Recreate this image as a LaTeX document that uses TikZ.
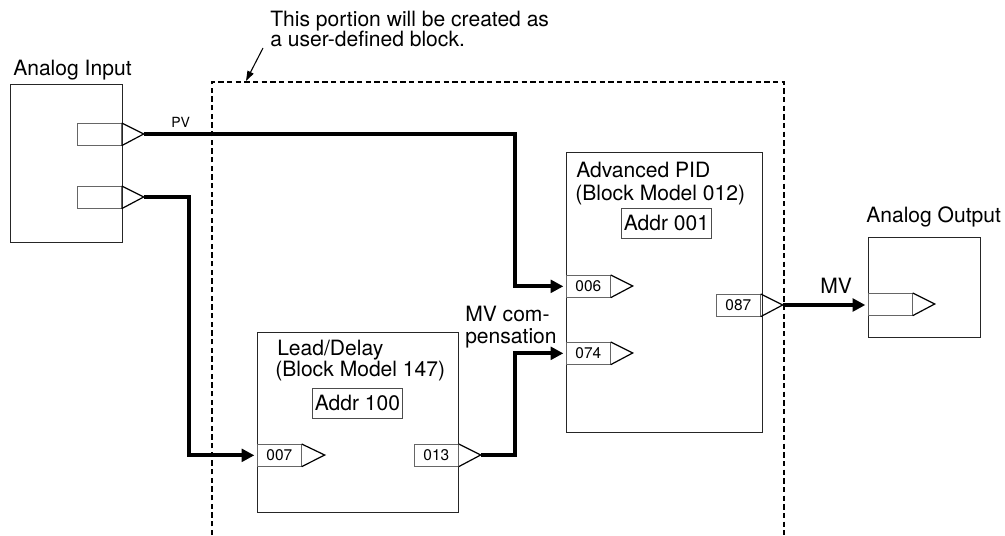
\documentclass[tikz,border=0pt]{standalone}
\usepackage{fontspec}
\setmainfont{TeX Gyre Heros}
\usetikzlibrary{arrows.meta}
\begin{document}
\begin{tikzpicture}[x=0.75pt,y=-0.75pt,
  blk/.style={draw=black!85, line width=0.8pt, inner sep=0pt, anchor=north west},
  addr/.style={draw=black!70, line width=0.6pt, inner sep=0pt, anchor=north west,
     minimum width=67.5pt, minimum height=22.5pt, font=\fontsize{15.8}{19}\selectfont},
  prt/.style={draw=black!60, line width=0.5pt, inner sep=0pt, anchor=north west,
     minimum width=33pt, minimum height=16.5pt, font=\fontsize{11.6}{13}\selectfont},
  tri/.style={draw=black, line width=0.9pt, line join=miter},
  wire/.style={line width=3pt, line join=miter, -{Triangle[length=9.5pt,width=9.5pt]}, shorten >=2pt},
  wireplain/.style={line width=3pt, line join=miter},
  notearrow/.style={line width=0.8pt, -{Triangle[length=7.5pt,width=5pt]}},
  dashbox/.style={line width=1.3pt, dash pattern=on 4pt off 2.5pt},
  lbl/.style={anchor=base west, inner sep=0pt, font=\fontsize{15.8}{19}\selectfont},
  slbl/.style={anchor=base west, inner sep=0pt, font=\fontsize{10.5}{12}\selectfont},
  ]
\useasboundingbox (0,0) rectangle (1005,535);

% user-defined block boundary
\coordinate (dbl) at (212,535);
\coordinate (dtl) at (212,82);
\coordinate (dtr) at (784,82);
\coordinate (dbr) at (784,535);
\draw[dashbox] (dbl) -- (dtl) -- (dtr) -- (dbr);

% note
\node[lbl] (note1) at (270,27) {This portion will be created as};
\node[lbl] (note2) at (270,47) {a user-defined block.};
\coordinate (nas) at (263,48);
\coordinate (nae) at (246,81);
\draw[notearrow] (nas) -- (nae);

% Analog Input
\node[lbl] (tai) at (13,75) {Analog Input};
\node[blk, minimum width=84pt, minimum height=118.5pt] (ai) at (10,84) {};
\node[prt] (ai1) at (77,123) {};
\draw[tri] (ai1.north east) -- ++(22,11) coordinate (ai1t) -- (ai1.south east);
\node[prt] (ai2) at (77,186) {};
\draw[tri] (ai2.north east) -- ++(22,11) coordinate (ai2t) -- (ai2.south east);
\node[slbl] (pv) at (171,127) {PV};

% Lead/Delay
\node[blk, minimum width=150.75pt, minimum height=135pt] (ld) at (257,332) {};
\node[lbl] (ld1) at (277,355) {Lead/Delay};
\node[lbl] (ld2) at (275,376) {(Block Model 147)};
\node[addr] (a100) at (312,388) {Addr 100};
\node[prt] (p007) at (257,444) {007};
\draw[tri] (p007.north east) -- ++(23,11) coordinate (p007t) -- (p007.south east);
\node[prt] (p013) at (414,444) {013};
\draw[tri] (p013.north east) -- ++(22,11) coordinate (p013t) -- (p013.south east);

% Advanced PID
\node[blk, minimum width=147pt, minimum height=210pt] (pid) at (566,152) {};
\node[lbl] (pid1) at (576,177) {Advanced PID};
\node[lbl] (pid2) at (575,200) {(Block Model 012)};
\node[addr] (a001) at (621,208) {Addr 001};
\node[prt] (p006) at (566,275) {006};
\draw[tri] (p006.north east) -- ++(22,11) coordinate (p006t) -- (p006.south east);
\node[prt] (p074) at (566,342) {074};
\draw[tri] (p074.north east) -- ++(22,11) coordinate (p074t) -- (p074.south east);
\node[prt] (p087) at (716,294) {087};
\draw[tri] (p087.north east) -- ++(22,11) coordinate (p087t) -- (p087.south east);

% Analog Output
\node[lbl] (tao) at (866,222) {Analog Output};
\node[blk, minimum width=84pt, minimum height=75pt] (ao) at (868,237) {};
\node[prt] (aop) at (868,293) {};
\draw[tri] (aop.north east) -- ++(22,11) coordinate (aopt) -- (aop.south east);

% labels
\node[lbl] (mvc1) at (465,321) {MV com-};
\node[lbl] (mvc2) at (465,343) {pensation};
\node[lbl] (mv) at (820,293) {MV};

% wires
\draw[wire] (ai1t) -| ([xshift=-38.25pt]p006.west) -- (p006.west);
\draw[wire] (ai2t) -| ([xshift=-51pt]p007.west) -- (p007.west);
\draw[wire] (p013t) -| ([xshift=-38.25pt]p074.west) -- (p074.west);
\draw[wire] (p087t) -- (p087t -| aop.west);
\end{tikzpicture}
\end{document}
